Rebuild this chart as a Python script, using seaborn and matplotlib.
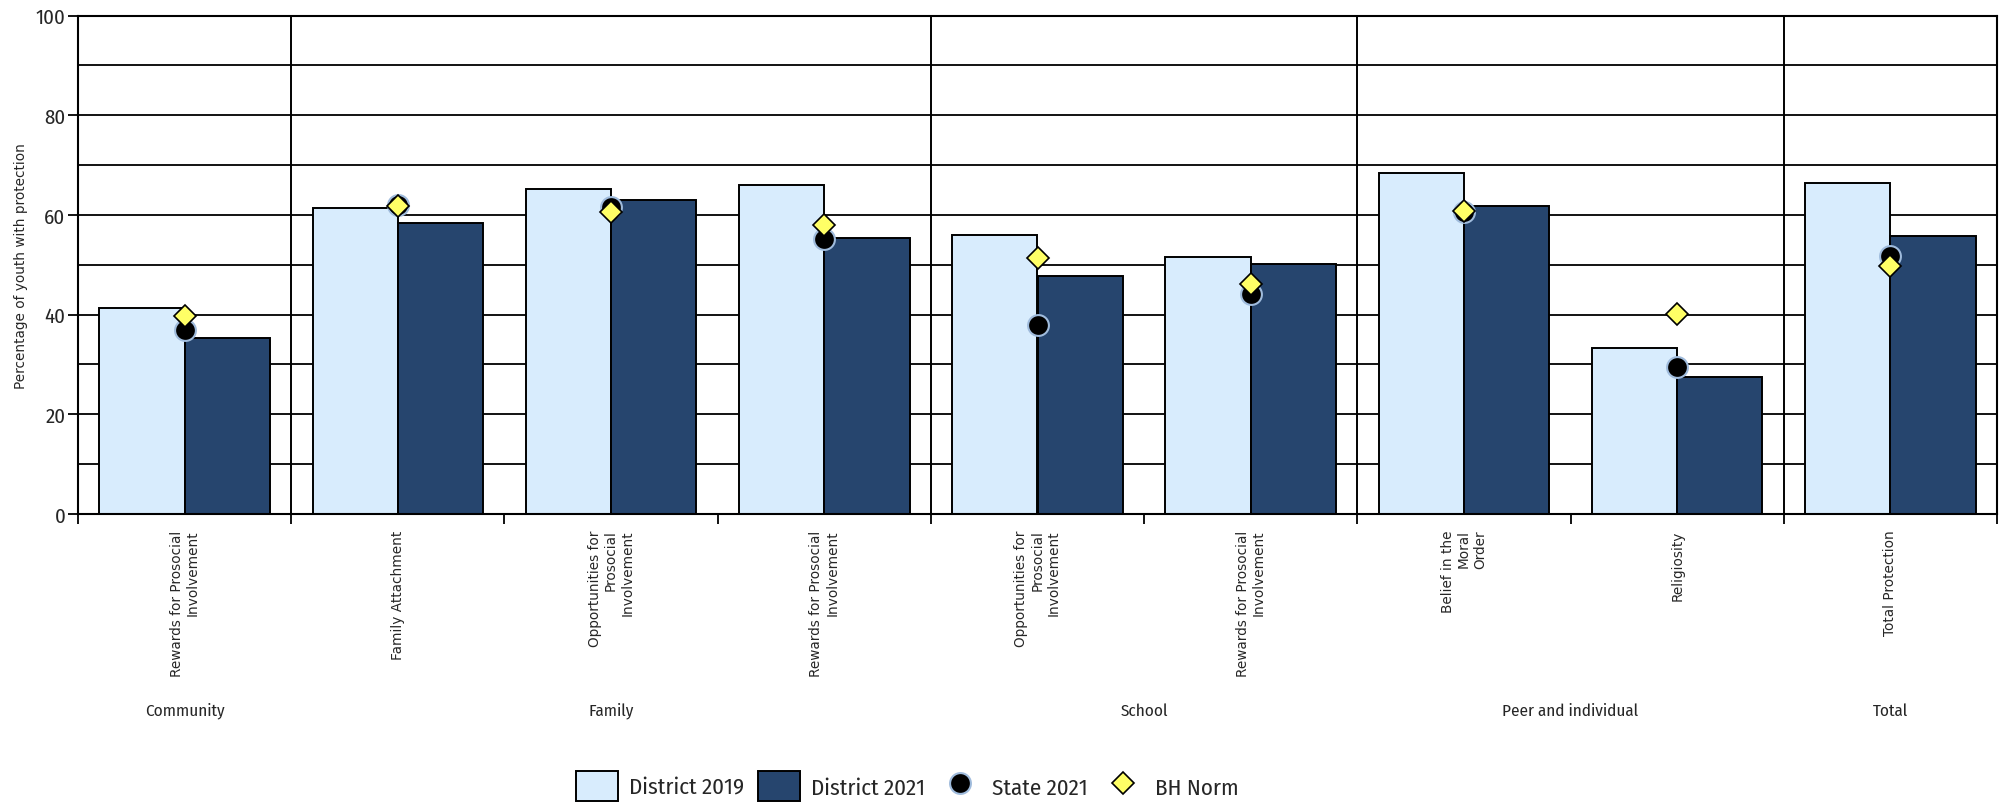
import numpy as np
import pandas as pd
import matplotlib.pyplot as plt
import matplotlib.transforms as mtransforms
from matplotlib import font_manager
from matplotlib.ticker import MultipleLocator
from matplotlib.patches import Patch
from matplotlib.lines import Line2D
import seaborn as sns

# %%
# values
groups = ['Community', 'Family', 'Family', 'Family', 'School', 'School',
          'Peer and individual', 'Peer and individual', 'Total']
scales = ['Rewards for Prosocial\nInvolvement', 'Family Attachment',
          'Opportunities for\nProsocial\nInvolvement', 'Rewards for Prosocial\nInvolvement',
          'Opportunities for\nProsocial\nInvolvement', 'Rewards for Prosocial\nInvolvement',
          'Belief in the\nMoral\nOrder', 'Religiosity', 'Total Protection']
district_2019 = [41.3, 61.4, 65.2, 65.9, 56.0, 51.5, 68.4, 33.4, 66.4]
district_2021 = [35.4, 58.4, 62.9, 55.3, 47.8, 50.1, 61.8, 27.5, 55.7]
state_2021 = [36.9, 61.9, 61.6, 55.2, 38.0, 44.2, 60.5, 29.4, 51.7]
bh_norm = [39.8, 61.7, 60.6, 58.0, 51.3, 46.2, 60.7, 40.2, 49.7]

colors = {
    'District 2019': '#d8ecfd',
    'District 2021': '#26456e',
    'State 2021': 'black',
    'BH Norm': '#ffff66',
}

# unique key per bar pair, since some scale names repeat across groups
keys = [f'{g} | {s}' for g, s in zip(groups, scales)]
bars = pd.DataFrame({
    'key': keys * 2,
    'value': district_2019 + district_2021,
    'series': ['District 2019'] * len(keys) + ['District 2021'] * len(keys),
})

# %%
sns.set_style('white')
plt.rcParams['font.family'] = 'DejaVu Sans'

# condensed face for axis numbers, group names and legend
installed = {f.name for f in font_manager.fontManager.ttflist}
narrow_name = next((n for n in ['Fira Sans Condensed', 'PT Sans Narrow', 'Roboto Condensed',
                                'Archivo Narrow', 'Asap Condensed', 'Liberation Sans Narrow']
                    if n in installed), 'DejaVu Sans')
narrow = [narrow_name, 'DejaVu Sans']

fig = plt.figure(figsize=(20.03, 8.04), dpi=100)
ax = fig.add_axes([78 / 2003, 1 - 515 / 804, (1997 - 78) / 2003, (515 - 16.5) / 804])

sns.barplot(data=bars, x='key', y='value', hue='series', order=keys,
            palette=[colors['District 2019'], colors['District 2021']],
            width=0.8, edgecolor='black', linewidth=1.4, saturation=1, ax=ax)
sns.pointplot(x=keys, y=state_2021, order=keys, errorbar=None, linestyle='none',
              marker='o', color=colors['State 2021'], markersize=15,
              markeredgecolor='#9fbbdc', markeredgewidth=1.5, ax=ax)
sns.pointplot(x=keys, y=bh_norm, order=keys, errorbar=None, linestyle='none',
              marker='D', color=colors['BH Norm'], markersize=11,
              markeredgecolor='black', markeredgewidth=1.2, ax=ax)

if ax.get_legend() is not None:
    ax.get_legend().remove()

ax.set_xlim(-0.5, len(keys) - 0.5)
ax.set_ylim(0, 100)
ax.set(xlabel='')
ax.set_ylabel('Percentage of youth with protection', fontsize=9.8)
ax.yaxis.set_label_coords(-50 / 1919, 0.5)

# y axis: labelled every 20, gridlines every 10
ax.yaxis.set_major_locator(MultipleLocator(20))
ax.yaxis.set_minor_locator(MultipleLocator(10))
ax.grid(axis='y', which='both', color='black', linewidth=1.3)
ax.set_axisbelow(True)
ax.tick_params(axis='y', which='major', direction='out', length=7.5, width=1.3,
               color='black', pad=1.5, left=True)
ax.tick_params(axis='y', which='minor', length=0)
for lab in ax.get_yticklabels():
    lab.set_family(narrow)
    lab.set_fontsize(15)

# x axis: tick marks between categories, labels at centres
ax.set_xticks(range(len(keys)))
ax.set_xticklabels(scales, rotation=90, ha='center', va='top',
                   multialignment='right', fontsize=9.8)
ax.set_xticks(np.arange(-0.5, len(keys), 1), minor=True)
ax.tick_params(axis='x', which='major', length=0, pad=11)
ax.tick_params(axis='x', which='minor', direction='out', length=7.5, width=1.3,
               color='black', bottom=True)

for side in ['left', 'right', 'top', 'bottom']:
    ax.spines[side].set_color('black')
    ax.spines[side].set_linewidth(1.5)

# group separators and group names
for i in range(len(groups) - 1):
    if groups[i] != groups[i + 1]:
        ax.axvline(i + 0.5, color='black', linewidth=1.4)

trans = mtransforms.blended_transform_factory(ax.transData, fig.transFigure)
for g in dict.fromkeys(groups):
    idx = [i for i, gg in enumerate(groups) if gg == g]
    ax.text(np.mean(idx), 1 - 711 / 804, g, transform=trans, ha='center', va='center',
            fontsize=12.3, family=narrow)

# legend
handles = [
    Patch(facecolor=colors['District 2019'], edgecolor='black', linewidth=1.4),
    Patch(facecolor=colors['District 2021'], edgecolor='black', linewidth=1.4),
    Line2D([], [], linestyle='none', marker='o', markersize=15, color='black',
           markeredgecolor='#9fbbdc', markeredgewidth=1.5),
    Line2D([], [], linestyle='none', marker='D', markersize=11, color=colors['BH Norm'],
           markeredgecolor='black', markeredgewidth=1.2),
]
labels = ['District 2019', 'District 2021', 'State 2021', 'BH Norm']
fig.legend(handles, labels, loc='center', bbox_to_anchor=(0.453, 1 - 787 / 804),
           ncol=4, frameon=False, prop={'family': narrow, 'size': 16.5},
           handlelength=1.83, handleheight=1.57, handletextpad=0.48, columnspacing=0.62)

plt.savefig('out.png', dpi=100)
